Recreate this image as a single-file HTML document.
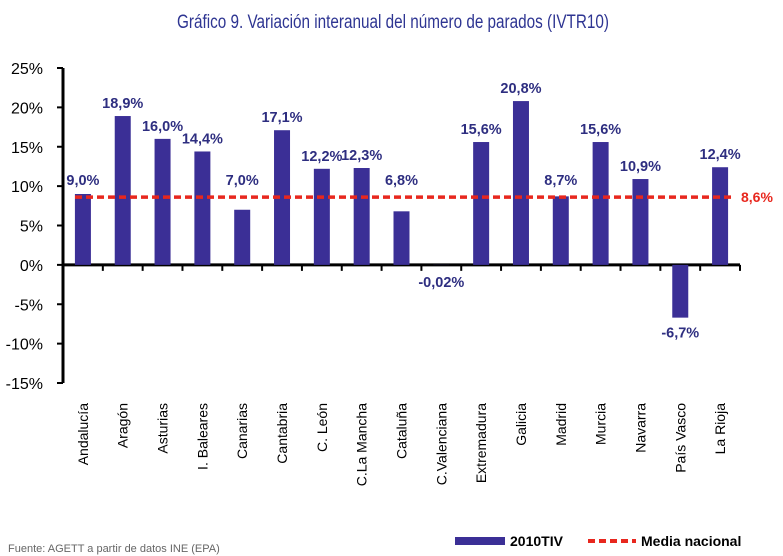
<!DOCTYPE html>
<html><head><meta charset="utf-8"><style>
body{margin:0;background:#fff;}
svg{display:block;font-family:"Liberation Sans",sans-serif;}
</style></head><body>
<svg id="chart" width="783" height="556" viewBox="0 0 783 556">
<text x="393" y="28" text-anchor="middle" font-size="19" fill="#2e3592" textLength="432" lengthAdjust="spacingAndGlyphs">Gráfico 9. Variación interanual del número de parados (IVTR10)</text>
<g id="plot"></g>
<text x="8" y="552" font-size="11" fill="#666">Fuente: AGETT a partir de datos INE (EPA)</text>
<g>
<rect x="455" y="537" width="50" height="8" fill="#3b2f96"/>
<text x="510" y="546" font-size="14" font-weight="bold" fill="#000">2010TIV</text>
<line x1="588" y1="541" x2="636" y2="541" stroke="#e8271e" stroke-width="4" stroke-dasharray="7,4"/>
<text x="641" y="546" font-size="14" font-weight="bold" fill="#000">Media nacional</text>
</g>
</svg>
<script>
const categories=["Andalucía","Aragón","Asturias","I. Baleares","Canarias","Cantabria","C. León","C.La Mancha","Cataluña","C.Valenciana","Extremadura","Galicia","Madrid","Murcia","Navarra","País Vasco","La Rioja"];
const values=[9.0,18.9,16.0,14.4,7.0,17.1,12.2,12.3,6.8,-0.02,15.6,20.8,8.7,15.6,10.9,-6.7,12.4];
const valueLabels=["9,0%","18,9%","16,0%","14,4%","7,0%","17,1%","12,2%","12,3%","6,8%","-0,02%","15,6%","20,8%","8,7%","15,6%","10,9%","-6,7%","12,4%"];
const ticks=[25,20,15,10,5,0,-5,-10,-15];
const tickLabels=["25%","20%","15%","10%","5%","0%","-5%","-10%","-15%"];
const mediaNacional=8.6;
const mediaLabel="8,6%";
const NS="http://www.w3.org/2000/svg";
const g=document.getElementById('plot');
const x0=63,x1=740,yTop=68,yBot=383;
const y=v=>yTop+(25-v)*(yBot-yTop)/40;
const step=(x1-x0)/categories.length;
const xc=i=>x0+step*(i+0.5);
function mk(t,a,txt){const e=document.createElementNS(NS,t);for(const k in a)e.setAttribute(k,a[k]);if(txt!==undefined)e.textContent=txt;g.appendChild(e);return e;}
let e=mk('line',{x1:x0,y1:yTop,x2:x0,y2:yBot,stroke:'#000','stroke-width':3});


ticks.forEach((t,i)=>{
 let l=mk('line',{x1:x0-6,y1:y(t),x2:x0,y2:y(t),stroke:'#000','stroke-width':2});
 
 
 let tx=mk('text',{x:43,y:y(t)+6,'text-anchor':'end','font-size':16,fill:'#000'},tickLabels[i]);
 
 
});
e=mk('line',{x1:x0,y1:y(0),x2:x1,y2:y(0),stroke:'#000','stroke-width':3});


categories.forEach((c,i)=>{
 let l=mk('line',{x1:x0+step*(i+1),y1:y(0),x2:x0+step*(i+1),y2:y(0)+6,stroke:'#000','stroke-width':2});
 
 
 const v=values[i];
 const top=Math.min(y(v),y(0)),h=Math.abs(y(v)-y(0));
 let b=mk('rect',{x:xc(i)-8,y:top,width:16,height:h,fill:'#3b2f96'});
 
 
 let ly;
 if(v>=0) ly=Math.min(y(v)-8,y(mediaNacional)-12);
 else if(v>-0.5) ly=y(0)+22;
 else ly=y(v)+20;
 let t=mk('text',{x:xc(i),y:ly,'text-anchor':'middle','font-size':14.5,'font-weight':'bold',fill:'#2e2e80'},valueLabels[i]);
 
 
 let ct=mk('text',{x:0,y:0,'text-anchor':'end','font-size':14,fill:'#000',transform:`translate(${xc(i)+5},403) rotate(-90)`},c);
 
 
});
e=mk('line',{x1:x0+12,y1:y(mediaNacional),x2:x1-5,y2:y(mediaNacional),stroke:'#e8271e','stroke-width':3.5,'stroke-dasharray':'7,4'});


e=mk('text',{x:741,y:y(mediaNacional)+5,'font-size':14,'font-weight':'bold',fill:'#e8271e'},mediaLabel);


</script>
</body></html>
